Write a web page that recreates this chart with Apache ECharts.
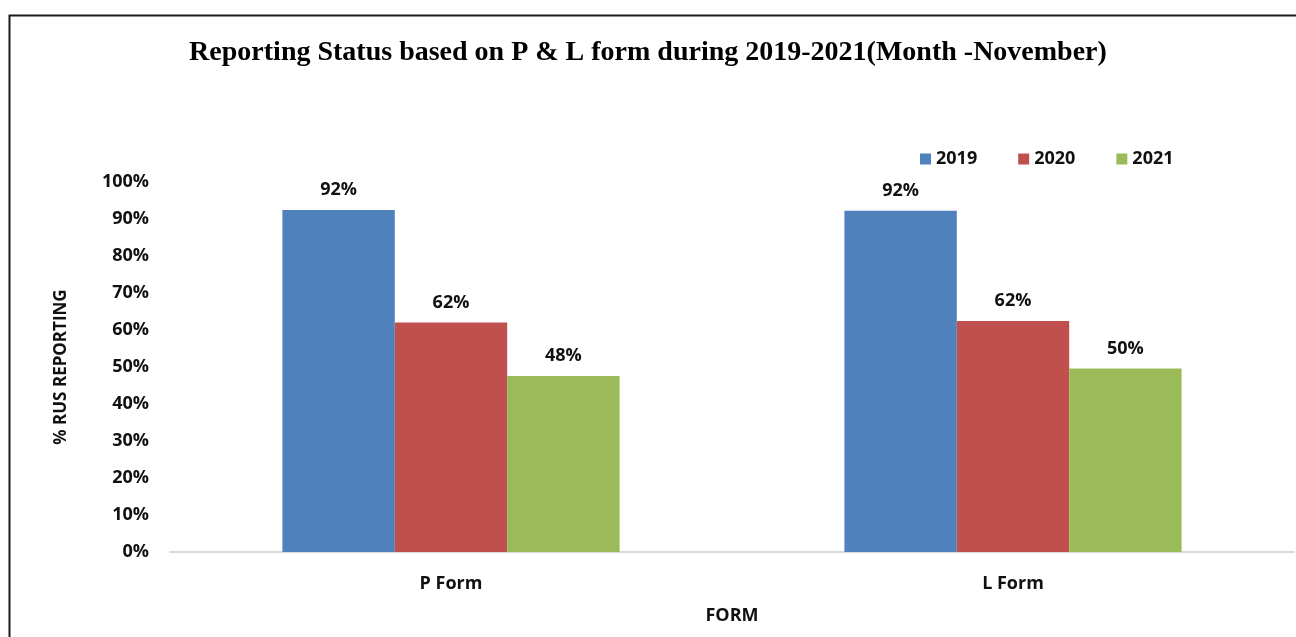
<!DOCTYPE html>
<html>
<head>
<meta charset="utf-8">
<script src="https://cdn.jsdelivr.net/npm/echarts@6/dist/echarts.min.js"></script>
<style>
html,body{margin:0;padding:0;background:#fff;}
#chart{width:1296px;height:637px;}
</style>
</head>
<body>
<div id="chart"></div>
<script>
const categories = ['P Form', 'L Form'];
const seriesNames = ['2019', '2020', '2021'];
const values2019 = [92.4, 92.2];
const values2020 = [62.0, 62.4];
const values2021 = [47.6, 49.6];
const yTicks = [0, 10, 20, 30, 40, 50, 60, 70, 80, 90, 100];
const colors = ['#4F81BD', '#C0504D', '#9BBB59'];

const font = 'Open Sans';
const chart = echarts.init(document.getElementById('chart'));
const labelCfg = {
  show: true, position: 'top', distance: 11,
  fontFamily: font, fontWeight: 'bold', fontSize: 18, color: '#111',
  formatter: p => Math.round(p.value) + '%'
};
const allValues = [values2019, values2020, values2021];
chart.setOption({
  animation: false,
  backgroundColor: '#fff',
  graphic: [{
    type: 'rect', shape: {x: 9.5, y: 15.5, width: 1400, height: 1000},
    style: {fill: 'none', stroke: '#1a1a1a', lineWidth: 2}, silent: true
  }],
  title: {
    text: 'Reporting Status based on P & L form during 2019-2021(Month -November)',
    left: 'center', top: 34,
    textStyle: {fontFamily: 'Liberation Serif', fontWeight: 'bold', fontSize: 28, color: '#000'}
  },
  legend: {
    data: seriesNames, left: 915, top: 145, icon: 'rect',
    itemWidth: 11, itemHeight: 11, itemGap: 41,
    textStyle: {fontFamily: font, fontWeight: 'bold', fontSize: 18, color: '#111'}
  },
  grid: {left: 170, right: 2, top: 182, bottom: 85, containLabel: false},
  xAxis: {
    type: 'category', data: categories,
    name: 'FORM', nameLocation: 'middle', nameGap: 55,
    nameTextStyle: {fontFamily: font, fontWeight: 'bold', fontSize: 18, color: '#111'},
    axisLine: {lineStyle: {color: '#d9d9d9', width: 2}},
    axisTick: {show: false},
    axisLabel: {fontFamily: font, fontWeight: 'bold', fontSize: 18, color: '#111', margin: 23}
  },
  yAxis: {
    type: 'value', min: yTicks[0], max: yTicks[yTicks.length - 1], interval: 10,
    name: '% RUS REPORTING', nameLocation: 'middle', nameGap: 100,
    nameTextStyle: {fontFamily: font, fontWeight: 'bold', fontSize: 17, color: '#111'},
    axisLine: {show: false}, axisTick: {show: false}, splitLine: {show: false},
    axisLabel: {fontFamily: font, fontWeight: 'bold', fontSize: 18, color: '#111', margin: 21,
      formatter: v => v + '%'}
  },
  series: seriesNames.map((n, i) => ({
    name: n, type: 'bar', data: allValues[i],
    barGap: '0%', barCategoryGap: '40%',
    itemStyle: {color: colors[i]},
    label: labelCfg
  }))
});
</script>
</body>
</html>
